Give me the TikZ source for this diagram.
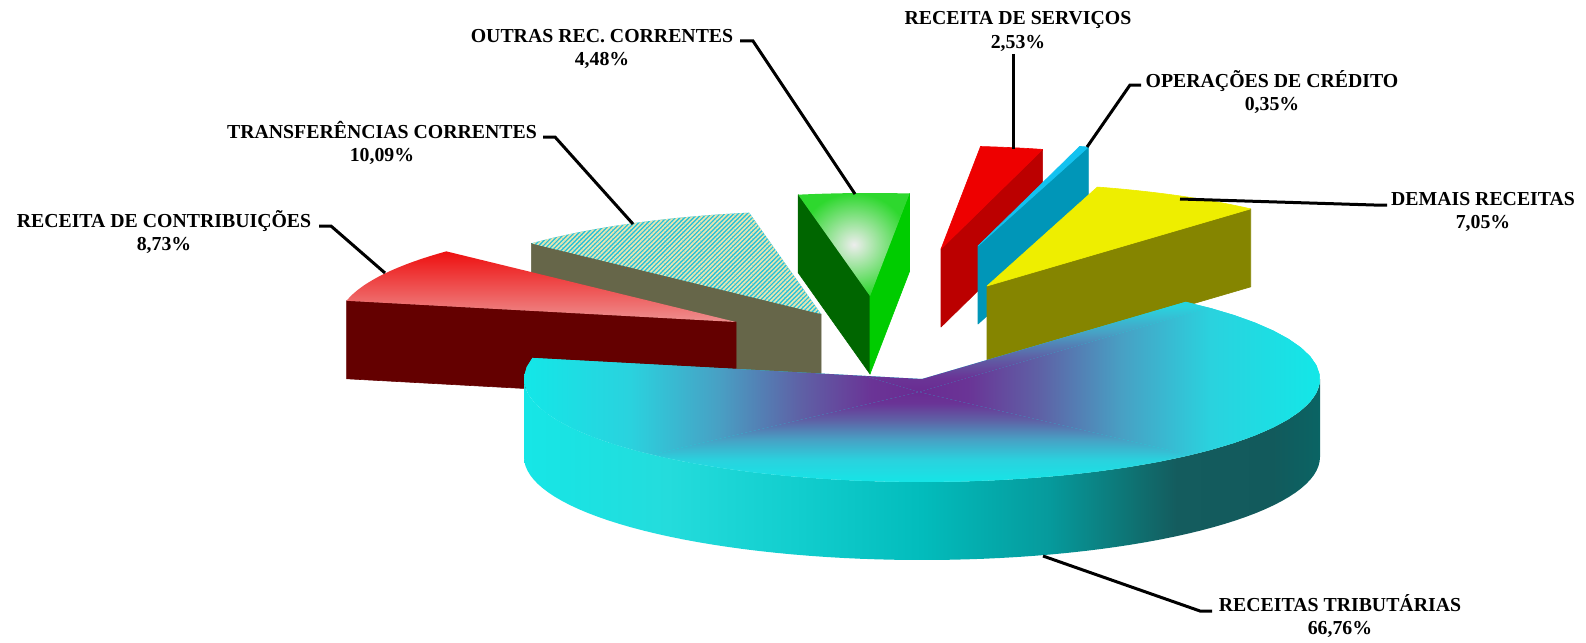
\documentclass[tikz,border=0pt]{standalone}
\usepackage{fontspec}
\setmainfont{Liberation Serif}
\usetikzlibrary{patterns.meta}
% colours
\definecolor{g0}{HTML}{6A2C92}\definecolor{g1}{HTML}{6A3496}\definecolor{g2}{HTML}{5E62A6}
\definecolor{g3}{HTML}{48A0C4}\definecolor{g4}{HTML}{2AD2DE}\definecolor{g5}{HTML}{12E8E8}
\definecolor{cs1}{HTML}{16E6E6}\definecolor{cs2}{HTML}{24DCDC}\definecolor{cs3}{HTML}{12CECE}
\definecolor{cs4}{HTML}{02BCBC}\definecolor{cs5}{HTML}{069A9C}\definecolor{cs6}{HTML}{0E7474}
\definecolor{cs7}{HTML}{145C5E}\definecolor{cs8}{HTML}{125A5C}\definecolor{cs9}{HTML}{0A6464}
\definecolor{drtop}{HTML}{EE1010}\definecolor{drmid}{HTML}{E96262}\definecolor{drbot}{HTML}{EE9090}
\definecolor{drface}{HTML}{640000}
\definecolor{hbase}{HTML}{22C0DA}\definecolor{hline}{HTML}{E8E6B0}\definecolor{hface}{HTML}{666649}
\definecolor{gin}{HTML}{EDEDED}\definecolor{gout}{HTML}{2ED82E}
\definecolor{gdark}{HTML}{006600}\definecolor{glight}{HTML}{00CC00}
\definecolor{rtop}{HTML}{EE0000}\definecolor{rface}{HTML}{BB0000}
\definecolor{btop}{HTML}{12C2F0}\definecolor{bface}{HTML}{0096B8}
\definecolor{ytop}{HTML}{EEEE00}\definecolor{yface}{HTML}{858500}
% shadings
\pgfdeclarehorizontalshading{cyanside}{100bp}{color(0bp)=(cs1); color(25bp)=(cs1); color(34bp)=(cs2); color(42bp)=(cs3); color(50bp)=(cs4); color(58bp)=(cs5); color(63bp)=(cs6); color(66bp)=(cs7); color(72bp)=(cs8); color(75bp)=(cs9); color(100bp)=(cs9)}
\pgfdeclareverticalshading{ctopT}{100bp}{color(0bp)=(g0); color(25bp)=(g0); color(31bp)=(g1); color(40bp)=(g2); color(50bp)=(g3); color(61bp)=(g4); color(75bp)=(g5); color(100bp)=(g5)}
\pgfdeclareverticalshading{ctopB}{100bp}{color(0bp)=(g5); color(25bp)=(g5); color(39bp)=(g4); color(50bp)=(g3); color(60bp)=(g2); color(69bp)=(g1); color(75bp)=(g0); color(100bp)=(g0)}
\pgfdeclarehorizontalshading{ctopR}{100bp}{color(0bp)=(g0); color(25bp)=(g0); color(31bp)=(g1); color(40bp)=(g2); color(50bp)=(g3); color(61bp)=(g4); color(75bp)=(g5); color(100bp)=(g5)}
\pgfdeclarehorizontalshading{ctopL}{100bp}{color(0bp)=(g5); color(25bp)=(g5); color(39bp)=(g4); color(50bp)=(g3); color(60bp)=(g2); color(69bp)=(g1); color(75bp)=(g0); color(100bp)=(g0)}
% pie geometry
\newcommand\pieA{398}
\newcommand\pieB{103}
\newcommand\pieH{78}
\newcommand\sltop[4]{(#1,#2) -- plot[domain=#3:#4,samples=48,variable=\t] ({#1+\pieA*cos(\t)},{#2-\pieB*sin(\t)}) -- cycle}
\newcommand\slcut[3]{(#1,#2) -- ({#1+\pieA*cos(#3)},{#2-\pieB*sin(#3)}) -- ({#1+\pieA*cos(#3)},{#2-\pieB*sin(#3)+\pieH}) -- (#1,{#2+\pieH}) -- cycle}
\newcommand\slside[4]{plot[domain=#3:#4,samples=72,variable=\t] ({#1+\pieA*cos(\t)},{#2-\pieB*sin(\t)}) -- plot[domain=#4:#3,samples=72,variable=\t] ({#1+\pieA*cos(\t)},{#2-\pieB*sin(\t)+\pieH}) -- cycle}
\newcommand\twoline[2]{\begin{tabular}[t]{@{}c@{}}#1\\#2\end{tabular}}
\begin{document}
\begin{tikzpicture}[x=1pt,y=-1pt,
  lbl/.style={font=\fontsize{19.8}{23.5}\selectfont\bfseries, inner sep=0pt, anchor=base},
  leader/.style={draw=black, line width=3pt},
  face/.style={line width=0.6pt, line join=round}]
\useasboundingbox (0,0) rectangle (1586,642);
\fill[white] (0,0) rectangle (1586,642);
% --- TRANSFERENCIAS CORRENTES (hatched)
\fill[face, hface, draw=hface] \slcut{821}{314}{136.7};
\fill[hbase] \sltop{821}{314}{100.4}{136.7};
\fill[pattern={Lines[angle=45,distance=3.2pt,line width=1.7pt]}, pattern color=hline] \sltop{821}{314}{100.4}{136.7};
% --- RECEITA DE CONTRIBUICOES (dark red)
\fill[face, drface, draw=drface] \slcut{736}{322}{168.1};
\shade[top color=drtop, middle color=drmid, bottom color=drbot] \sltop{736}{322}{136.7}{168.1};
% --- OUTRAS REC. CORRENTES (green)
\fill[face, gdark, draw=gdark] \slcut{870}{296}{100.4};
\fill[face, glight, draw=glight] \slcut{870}{296}{84.3};
\shade[inner color=gin, outer color=gout] \sltop{870}{296}{84.3}{100.4};
% --- RECEITA DE SERVICOS (red)
\fill[face, rface, draw=rface] \slcut{941}{249}{75.2};
\fill[face, rtop, draw=rtop] \sltop{941}{249}{75.2}{84.3};
% --- OPERACOES DE CREDITO (blue)
\fill[face, bface, draw=bface] \slcut{978}{246}{73.9};
\fill[face, btop, draw=btop] \sltop{978}{246}{73.9}{75.2};
% --- DEMAIS RECEITAS (yellow)
\fill[face, yface, draw=yface] \slcut{987}{286}{48.5};
\fill[face, ytop, draw=ytop] \sltop{987}{286}{48.5}{73.9};
% --- RECEITAS TRIBUTARIAS (cyan)
\shade[shading=cyanside] \slside{922}{379}{180}{360};
\begin{scope}
\clip \sltop{922}{379}{168.2}{408.5};
\fill[g5] (500,260) rectangle (1340,500);
\shade[shading=ctopT] (919,392) -- (518,274) -- (1324,274) -- cycle;
\shade[shading=ctopB] (919,392) -- (518,486) -- (1324,486) -- cycle;
\shade[shading=ctopL] (919,392) -- (518,274) -- (518,486) -- cycle;
\shade[shading=ctopR] (919,392) -- (1324,274) -- (1324,486) -- cycle;
\end{scope}
% --- labels
\node[lbl] (lcontrib) at (164,227) {\twoline{RECEITA DE CONTRIBUIÇÕES}{8,73\%}};
\node[lbl] (ltransf) at (382,138) {\twoline{TRANSFERÊNCIAS CORRENTES}{10,09\%}};
\node[lbl] (loutras) at (602,42) {\twoline{OUTRAS REC. CORRENTES}{4,48\%}};
\node[lbl] (lserv) at (1018,25) {\twoline{RECEITA DE SERVIÇOS}{2,53\%}};
\node[lbl] (loper) at (1272,87) {\twoline{OPERAÇÕES DE CRÉDITO}{0,35\%}};
\node[lbl] (ldemais) at (1483,205) {\twoline{DEMAIS RECEITAS}{7,05\%}};
\node[lbl] (ltrib) at (1340,611) {\twoline{RECEITAS TRIBUTÁRIAS}{66,76\%}};
% --- leader end points
\coordinate (c1a) at (319,226); \coordinate (c1b) at (331,226); \coordinate (c1c) at (385,273);
\coordinate (c2a) at (543,137); \coordinate (c2b) at (555,137); \coordinate (c2c) at (633,224);
\coordinate (c3a) at (740,41);  \coordinate (c3b) at (753,41);  \coordinate (c3c) at (855,194);
\coordinate (c4a) at (1013,54); \coordinate (c4c) at (1013,149);
\coordinate (c5a) at (1141,85); \coordinate (c5b) at (1130,85); \coordinate (c5c) at (1087,147);
\coordinate (c6a) at (1387,205); \coordinate (c6b) at (1374,205); \coordinate (c6c) at (1180,199);
\coordinate (c7a) at (1212,611); \coordinate (c7b) at (1200,611); \coordinate (c7c) at (1043,556);
\draw[leader] (c1a) -- (c1b) -- (c1c);
\draw[leader] (c2a) -- (c2b) -- (c2c);
\draw[leader] (c3a) -- (c3b) -- (c3c);
\draw[leader] (c4a) -- (c4c);
\draw[leader] (c5a) -- (c5b) -- (c5c);
\draw[leader] (c6a) -- (c6b) -- (c6c);
\draw[leader] (c7a) -- (c7b) -- (c7c);
\end{tikzpicture}
\end{document}
